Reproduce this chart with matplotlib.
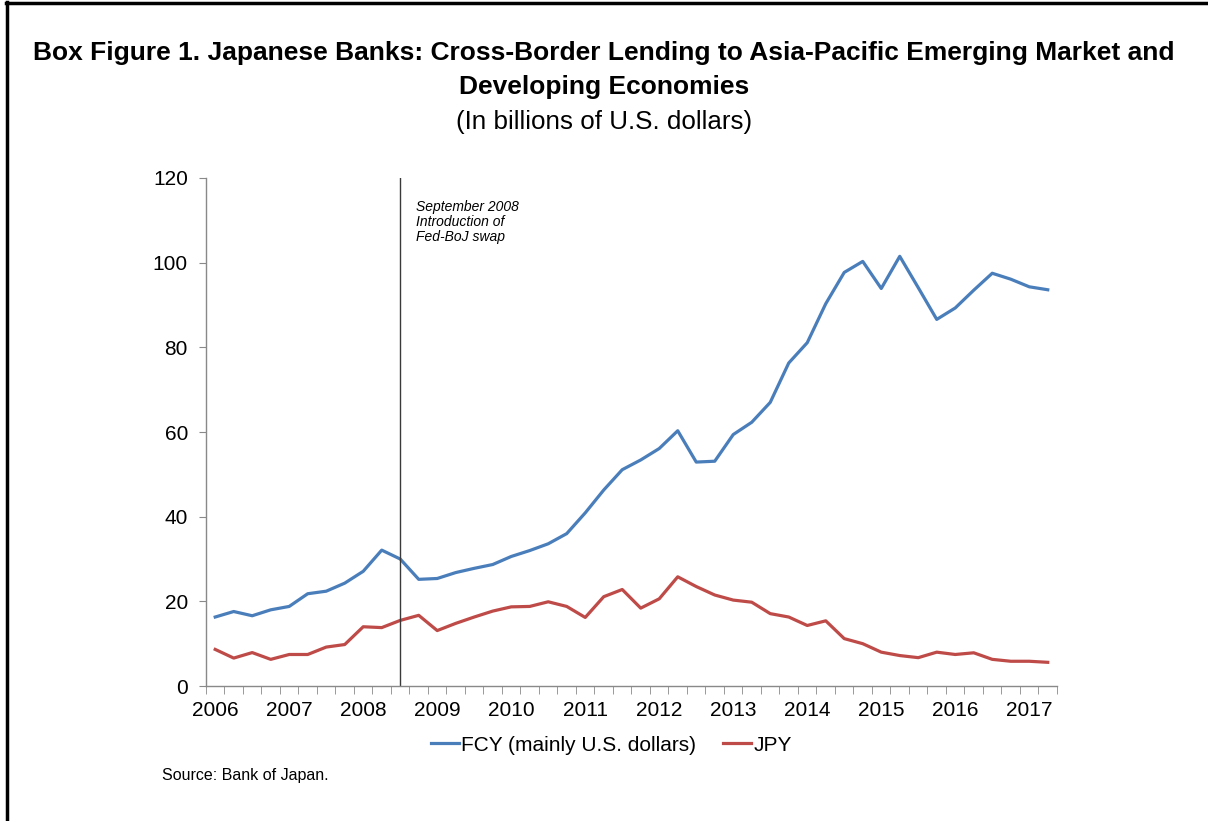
import numpy as np
import matplotlib.pyplot as plt
from matplotlib.lines import Line2D

plt.rcParams['font.family'] = ['Liberation Sans', 'DejaVu Sans']

# quarterly data, 2006Q1 - 2017Q2
years = ['2006', '2007', '2008', '2009', '2010', '2011', '2012',
         '2013', '2014', '2015', '2016', '2017']
fcy = [16.3, 17.6, 16.6, 18.0, 18.8, 21.8, 22.4, 24.3,
       27.1, 32.1, 30.0, 25.2, 25.4, 26.8, 27.8, 28.7,
       30.6, 32.0, 33.6, 36.0, 40.9, 46.3, 51.1, 53.4,
       56.1, 60.3, 52.9, 53.1, 59.4, 62.3, 67.0, 76.3,
       81.1, 90.3, 97.7, 100.3, 93.9, 101.5, 94.1, 86.6,
       89.3, 93.5, 97.5, 96.1, 94.3, 93.6]
jpy = [8.65, 6.6, 7.9, 6.3, 7.45, 7.45, 9.2, 9.8,
       14.0, 13.8, 15.5, 16.7, 13.1, 14.8, 16.3, 17.7,
       18.7, 18.8, 19.9, 18.8, 16.2, 21.1, 22.8, 18.4,
       20.6, 25.8, 23.5, 21.5, 20.3, 19.8, 17.1, 16.3,
       14.3, 15.4, 11.2, 10.0, 8.0, 7.2, 6.7, 8.0,
       7.45, 7.85, 6.3, 5.85, 5.85, 5.6]
swap_quarter = 10  # 2008Q3

blue = '#4A7EBB'
red = '#BE4B48'
axis_gray = '#898989'

fig = plt.figure(figsize=(12.08, 8.21), dpi=100)
ax = fig.add_axes([0.1705, 0.1644, 0.7045, 0.6188])

x = np.arange(len(fcy))
ax.plot(x, fcy, color=blue, lw=2.3, solid_joinstyle='round')
ax.plot(x, jpy, color=red, lw=2.3, solid_joinstyle='round')
ax.axvline(swap_quarter, ymin=0, ymax=1, color='#3a3a3a', lw=1.0)
ax.text(swap_quarter + 0.85, 114.8, 'September 2008\nIntroduction of\nFed-BoJ swap',
        fontsize=10, style='italic', va='top', ha='left', linespacing=1.08)

ax.set_xlim(-0.5, len(fcy) - 0.5)
ax.set_ylim(0, 120)
ax.set_yticks(range(0, 121, 20))
ax.tick_params(axis='y', labelsize=15, length=5, color=axis_gray, pad=8)
ax.set_xticks(np.arange(0, len(fcy), 4))
ax.set_xticklabels(years)
ax.set_xticks(np.arange(-0.5, len(fcy), 1), minor=True)
ax.tick_params(axis='x', which='major', length=0, labelsize=15, pad=11)
ax.tick_params(axis='x', which='minor', length=6, color=axis_gray)
for s in ['top', 'right']:
    ax.spines[s].set_visible(False)
for s in ['left', 'bottom']:
    ax.spines[s].set_color(axis_gray)
    ax.spines[s].set_linewidth(1.0)

handles = [Line2D([], [], color=blue, lw=2.3), Line2D([], [], color=red, lw=2.3)]
fig.legend(handles, ['FCY (mainly U.S. dollars)', 'JPY'], loc='center',
           bbox_to_anchor=(0.506, 0.0925), ncol=2, frameon=False, fontsize=15,
           handlelength=1.35, handletextpad=0.1, columnspacing=1.3)

fig.text(0.5, 0.935, 'Box Figure 1. Japanese Banks: Cross-Border Lending to Asia-Pacific Emerging Market and',
         ha='center', va='center', fontsize=19, fontweight='bold')
fig.text(0.5, 0.894, 'Developing Economies', ha='center', va='center',
         fontsize=19, fontweight='bold')
fig.text(0.5, 0.852, '(In billions of U.S. dollars)', ha='center', va='center', fontsize=18.7)
fig.text(0.134, 0.055, 'Source: Bank of Japan.', ha='left', va='center', fontsize=11.5)

# frame lines (top and left)
fig.add_artist(Line2D([0.005, 1.0], [0.9965, 0.9965], color='black', lw=2.5))
fig.add_artist(Line2D([0.0055, 0.0055], [0.0, 0.997], color='black', lw=2.5))

fig.savefig('out.png', dpi=100)
